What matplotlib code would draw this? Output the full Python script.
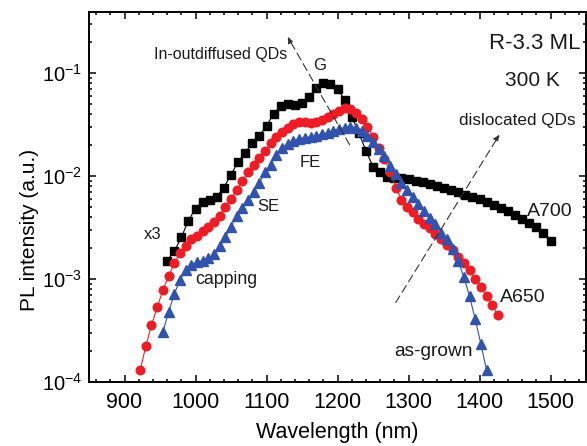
import matplotlib
matplotlib.use("Agg")
import matplotlib.pyplot as plt
from matplotlib.ticker import MultipleLocator, LogLocator, NullFormatter

# A700 (x3), black squares
wl_a700 = [960, 970, 980, 990, 1000, 1010, 1020, 1030, 1040, 1050,
           1060, 1070, 1080, 1090, 1100, 1110, 1120, 1130, 1140, 1150,
           1160, 1170, 1180, 1190, 1200, 1210, 1220, 1230, 1240, 1250,
           1260, 1270, 1280, 1290, 1300, 1310, 1320, 1330, 1340, 1350,
           1360, 1370, 1380, 1390, 1400, 1410, 1420, 1430, 1440, 1450,
           1460, 1470, 1480, 1490, 1500]
pl_a700 = [1.51e-3, 1.85e-3, 2.53e-3, 3.69e-3, 4.82e-3, 5.64e-3, 5.90e-3, 6.31e-3, 7.71e-3, 1.03e-2,
           1.37e-2, 1.68e-2, 2.10e-2, 2.45e-2, 3.07e-2, 4.01e-2, 4.80e-2, 5.01e-2, 4.90e-2, 5.13e-2,
           5.86e-2, 7.16e-2, 8.00e-2, 7.83e-2, 7.00e-2, 5.48e-2, 3.75e-2, 2.62e-2, 1.76e-2, 1.23e-2,
           1.08e-2, 9.84e-3, 9.63e-3, 9.63e-3, 9.42e-3, 9.01e-3, 8.81e-3, 8.42e-3, 8.05e-3, 7.71e-3,
           7.37e-3, 7.05e-3, 6.59e-3, 6.31e-3, 6.03e-3, 5.64e-3, 5.27e-3, 4.93e-3, 4.61e-3, 4.22e-3,
           3.86e-3, 3.53e-3, 3.23e-3, 2.82e-3, 2.36e-3]

# A650, red circles
wl_a650 = [922, 930, 938, 946, 954, 962, 970, 978, 986, 994,
           1002, 1010, 1018, 1026, 1034, 1042, 1050, 1058, 1066, 1074,
           1082, 1090, 1098, 1106, 1114, 1122, 1130, 1138, 1146, 1154,
           1162, 1170, 1178, 1186, 1194, 1202, 1210, 1218, 1226, 1234,
           1242, 1250, 1258, 1266, 1274, 1282, 1290, 1298, 1306, 1314,
           1322, 1330, 1338, 1346, 1354, 1362, 1370, 1378, 1386, 1394,
           1402, 1410, 1418, 1426]
pl_a650 = [1.30e-4, 2.23e-4, 3.56e-4, 5.31e-4, 7.76e-4, 1.06e-3, 1.42e-3, 1.77e-3, 2.11e-3, 2.42e-3,
           2.64e-3, 2.95e-3, 3.23e-3, 3.61e-3, 4.13e-3, 5.05e-3, 6.03e-3, 7.37e-3, 9.01e-3, 1.08e-2,
           1.29e-2, 1.50e-2, 1.76e-2, 2.10e-2, 2.40e-2, 2.69e-2, 2.94e-2, 3.21e-2, 3.36e-2, 3.36e-2,
           3.28e-2, 3.36e-2, 3.51e-2, 3.75e-2, 4.01e-2, 4.29e-2, 4.58e-2, 4.48e-2, 4.10e-2, 3.59e-2,
           3.00e-2, 2.40e-2, 1.88e-2, 1.47e-2, 1.10e-2, 7.71e-3, 5.90e-3, 5.05e-3, 4.42e-3, 3.86e-3,
           3.45e-3, 3.09e-3, 2.76e-3, 2.47e-3, 2.16e-3, 1.89e-3, 1.62e-3, 1.42e-3, 1.21e-3, 1.01e-3,
           8.30e-4, 6.79e-4, 5.55e-4, 4.45e-4]

# as-grown, blue triangles
wl_grown = [954, 962, 970, 978, 986, 994, 1002, 1010, 1018, 1026,
            1034, 1042, 1050, 1058, 1066, 1074, 1082, 1090, 1098, 1106,
            1114, 1122, 1130, 1138, 1146, 1154, 1162, 1170, 1178, 1186,
            1194, 1202, 1210, 1218, 1226, 1234, 1242, 1250, 1258, 1266,
            1274, 1282, 1290, 1298, 1306, 1314, 1322, 1330, 1338, 1346,
            1354, 1362, 1370, 1378, 1386, 1394, 1402, 1410]
pl_grown = [3.04e-4, 4.75e-4, 7.10e-4, 9.68e-4, 1.21e-3, 1.38e-3, 1.45e-3, 1.51e-3, 1.58e-3, 1.73e-3,
            2.07e-3, 2.53e-3, 3.23e-3, 4.04e-3, 4.93e-3, 5.90e-3, 7.05e-3, 8.61e-3, 1.08e-2, 1.29e-2,
            1.61e-2, 1.88e-2, 2.06e-2, 2.20e-2, 2.30e-2, 2.35e-2, 2.40e-2, 2.45e-2, 2.56e-2, 2.62e-2,
            2.75e-2, 2.87e-2, 2.94e-2, 3.00e-2, 2.94e-2, 2.75e-2, 2.45e-2, 2.15e-2, 1.84e-2, 1.57e-2,
            1.26e-2, 1.05e-2, 8.61e-3, 7.37e-3, 6.31e-3, 5.40e-3, 4.61e-3, 3.94e-3, 3.38e-3, 2.82e-3,
            2.42e-3, 1.94e-3, 1.48e-3, 1.04e-3, 6.79e-4, 4.06e-4, 2.33e-4, 1.30e-4]

RED = "#ee1d25"
BLUE = "#3153ad"


def main() -> None:
    plt.rcParams["font.family"] = ["Liberation Sans", "DejaVu Sans"]

    fig = plt.figure(figsize=(5.87, 4.46), dpi=100)
    ax = fig.add_axes([89 / 587, 64 / 446, 497 / 587, 370 / 446])

    ax.plot(wl_a700, pl_a700, color="black", lw=0.8, marker="s", ms=5.3,
            mec="black", mfc="black")
    ax.plot(wl_a650, pl_a650, color=RED, lw=0.8, marker="o", ms=6.2,
            mec=RED, mfc=RED)
    ax.plot(wl_grown, pl_grown, color=BLUE, lw=0.8, marker="^", ms=6.8,
            mec=BLUE, mfc=BLUE)

    ax.set_yscale("log")
    ax.set_xlim(850, 1550)
    ax.set_ylim(1e-4, 0.39)
    ax.xaxis.set_major_locator(MultipleLocator(100))
    ax.xaxis.set_minor_locator(MultipleLocator(20))
    ax.yaxis.set_major_locator(LogLocator(base=10, numticks=10))
    ax.yaxis.set_minor_locator(LogLocator(base=10, subs=range(2, 10), numticks=20))
    ax.yaxis.set_minor_formatter(NullFormatter())

    ax.tick_params(which="both", direction="in", top=True, right=True, width=1.1)
    ax.tick_params(which="major", length=5)
    ax.tick_params(axis="x", which="major", pad=7, labelsize=15.5)
    ax.tick_params(axis="y", which="major", pad=5, labelsize=14.5)
    ax.tick_params(which="minor", length=2.5)
    for s in ax.spines.values():
        s.set_linewidth(1.4)

    ax.set_xlabel("Wavelength (nm)", fontsize=15.5)
    ax.xaxis.set_label_coords(0.5, -0.108)
    ax.set_ylabel("PL intensity (a.u.)", fontsize=15)
    ax.yaxis.set_label_coords(-0.1, 0.41)

    arrow = dict(arrowstyle="-|>", linestyle=(0, (7, 4)), color="#333333",
                 lw=0.8, mutation_scale=9, shrinkA=0, shrinkB=0)
    ax.annotate("", xy=(1130, 0.223), xytext=(1217, 0.0201), arrowprops=arrow)
    ax.annotate("", xy=(1428, 0.0251), xytext=(1282, 5.9e-4), arrowprops=arrow)

    labels = [
        ("In-outdiffused QDs", 0.2656, 0.8838, 11.5),
        ("G", 0.4648, 0.8541, 12),
        ("FE", 0.4447, 0.5919, 12),
        ("SE", 0.3602, 0.4730, 12),
        ("x3", 0.1288, 0.3973, 12),
        ("capping", 0.2757, 0.2757, 12.8),
        ("R-3.3 ML", 0.8974, 0.9162, 16),
        ("300 K", 0.8913, 0.8162, 15),
        ("dislocated QDs", 0.8612, 0.7081, 12.3),
        ("A700", 0.9276, 0.4595, 14),
        ("A650", 0.8732, 0.2297, 14),
        ("as-grown", 0.6922, 0.0811, 13.8),
    ]
    for txt, x, y, size in labels:
        ax.text(x, y, txt, transform=ax.transAxes, ha="center", va="center",
                fontsize=size, color="#1a1a1a")

    fig.savefig("out.png", dpi=100)


if __name__ == "__main__":
    main()
